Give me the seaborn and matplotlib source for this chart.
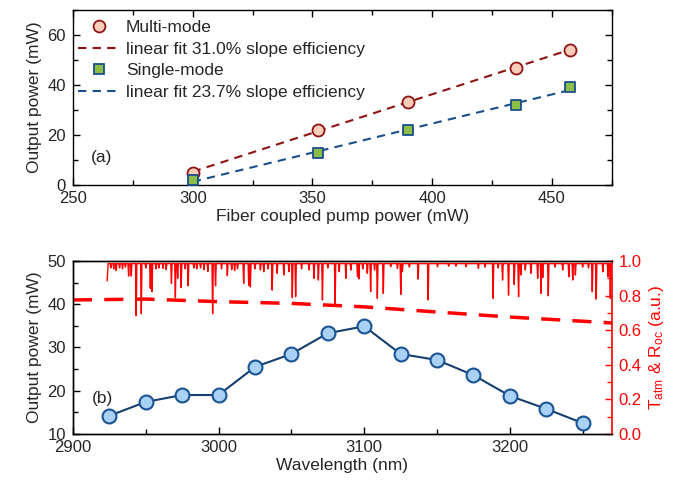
import numpy as np
import pandas as pd
import matplotlib
matplotlib.use("Agg")
import matplotlib.pyplot as plt
from matplotlib.ticker import MultipleLocator, FormatStrFormatter
from matplotlib.lines import Line2D
import seaborn as sns

# ---- panel (a): output power vs pump power ----
pump_multi = [300, 352.5, 390, 435, 457.5]
power_multi = [5.0, 22.2, 33.2, 47.0, 54.2]
pump_single = [300, 352.5, 390, 435, 457.5]
power_single = [2.0, 12.9, 22.0, 32.0, 39.1]
fit_labels = ["linear fit 31.0% slope efficiency", "linear fit 23.7% slope efficiency"]

# ---- panel (b): output power vs wavelength ----
wavelength = [2925, 2950, 2975, 3000, 3025, 3050, 3075, 3100,
              3125, 3150, 3175, 3200, 3225, 3250]
power_wl = [14.2, 17.4, 19.0, 19.0, 25.5, 28.5, 33.3, 34.9,
            28.5, 27.1, 23.6, 18.8, 15.8, 12.5]

# output coupler reflectivity (dashed red)
roc_wl = [2900, 2950, 3000, 3050, 3100, 3150, 3200, 3270]
roc_val = [0.775, 0.78, 0.765, 0.755, 0.735, 0.705, 0.676, 0.642]

# atmospheric transmission: start point, baseline level and absorption dips
tatm_start = (2923.5, 0.885)
tatm_base = 0.985
dip_wl = [2926, 2928, 2929.7, 2932, 2934, 2936, 2938.2, 2940, 2943.4, 2946.9,
          2950, 2953.1, 2954.3, 2957, 2959, 2961.8, 2964, 2967.6, 2970.3, 2971.9,
          2974.3, 2977, 2979.1, 2983, 2985, 2987.6, 2990, 2992.6, 2995.9, 2997.9,
          3002, 3006, 3009, 3011, 3013, 3017.2, 3020.7, 3021.8, 3025, 3028.7,
          3031, 3034, 3036.8, 3040.2, 3044.8, 3048.3, 3050.6, 3052.9, 3057, 3062.1,
          3065.5, 3068.5, 3071.3, 3075, 3080, 3082.8, 3087.4, 3090.8, 3095.4, 3096.3,
          3099, 3102.1, 3104.4, 3107.1, 3109, 3113.1, 3118.2, 3122.8, 3125.1, 3126.2,
          3131, 3137, 3143.9, 3150.3, 3158, 3163, 3169.9, 3178.4, 3183, 3188.5,
          3192, 3195, 3199.1, 3203, 3206, 3207.6, 3210.6, 3214.5, 3219.1, 3221.4,
          3222.6, 3226.4, 3231, 3236.3, 3240.5, 3243.2, 3245, 3250, 3254, 3256.6,
          3259.3, 3263.9, 3267.4, 3269]
dip_depth = [0.96, 0.955, 0.944, 0.96, 0.955, 0.965, 0.913, 0.913, 0.684, 0.695,
             0.96, 0.842, 0.823, 0.955, 0.96, 0.958, 0.95, 0.871, 0.788, 0.90,
             0.846, 0.955, 0.857, 0.96, 0.955, 0.96, 0.95, 0.94, 0.695, 0.857,
             0.955, 0.915, 0.95, 0.945, 0.955, 0.871, 0.86, 0.85, 0.955, 0.948,
             0.938, 0.955, 0.832, 0.929, 0.919, 0.938, 0.788, 0.794, 0.955, 0.948,
             0.90, 0.89, 0.775, 0.96, 0.746, 0.938, 0.90, 0.948, 0.909, 0.896,
             0.955, 0.929, 0.823, 0.948, 0.784, 0.813, 0.967, 0.958, 0.807, 0.938,
             0.965, 0.896, 0.775, 0.967, 0.97, 0.97, 0.967, 0.958, 0.965, 0.784,
             0.96, 0.89, 0.803, 0.865, 0.794, 0.919, 0.948, 0.929, 0.90, 0.813,
             0.904, 0.799, 0.965, 0.948, 0.909, 0.89, 0.919, 0.965, 0.96, 0.823,
             0.78, 0.938, 0.909, 0.784]

sns.set_theme(style="ticks")
plt.rcParams["font.family"] = ["Liberation Sans", "DejaVu Sans"]
plt.rcParams["mathtext.fontset"] = "custom"
plt.rcParams["mathtext.rm"] = "Liberation Sans"
plt.rcParams["mathtext.it"] = "Liberation Sans:italic"
plt.rcParams["xtick.direction"] = "in"
plt.rcParams["ytick.direction"] = "in"
plt.rcParams["axes.edgecolor"] = "black"
plt.rcParams["axes.linewidth"] = 1.0

FS = 12.5
TFS = 12

fig = plt.figure(figsize=(6.79, 4.87), dpi=100)
ax1 = fig.add_axes([0.1075, 0.620, 0.7935, 0.359])
ax2 = fig.add_axes([0.1075, 0.109, 0.7935, 0.355])

# ======================= panel (a) =======================
red_dark = "#8e1414"
blue_dark = "#1a4f8c"

df_m = pd.DataFrame({"pump": pump_multi, "power": power_multi})
df_s = pd.DataFrame({"pump": pump_single, "power": power_single})

for df, col in [(df_m, red_dark), (df_s, blue_dark)]:
    k, b = np.polyfit(df["pump"], df["power"], 1)
    xf = np.array([df["pump"].min(), df["pump"].max()])
    ax1.plot(xf, k * xf + b, ls=(0, (4, 3)), color=col, lw=1.5, zorder=2)

sns.scatterplot(data=df_m, x="pump", y="power", ax=ax1, marker="o", s=75,
                color="#fbcdb9", edgecolor=red_dark, linewidth=1.3, zorder=3)
sns.scatterplot(data=df_s, x="pump", y="power", ax=ax1, marker="s", s=60,
                color="#8cbd45", edgecolor=blue_dark, linewidth=1.3, zorder=3)

ax1.set_xlim(250, 475)
ax1.set_ylim(0, 70)
ax1.xaxis.set_major_locator(MultipleLocator(50))
ax1.xaxis.set_minor_locator(MultipleLocator(25))
ax1.yaxis.set_major_locator(MultipleLocator(20))
ax1.yaxis.set_minor_locator(MultipleLocator(10))
ax1.tick_params(which="both", top=True, right=True, labelsize=TFS, color="black")
ax1.tick_params(which="major", length=5, width=1)
ax1.tick_params(which="minor", length=3.5, width=1)
ax1.tick_params(axis="x", pad=4.5)
ax1.tick_params(axis="y", pad=5)
ax1.set_xlabel("Fiber coupled pump power (mW)", fontsize=FS, labelpad=2)
ax1.set_ylabel("Output power (mW)", fontsize=FS, labelpad=4)
ax1.text(262, 11, "(a)", fontsize=FS, ha="center", va="center")

handles = [
    Line2D([], [], ls="none", marker="o", ms=8.5, mfc="#fbcdb9", mec=red_dark, mew=1.3),
    Line2D([], [], ls=(0, (4, 3)), color=red_dark, lw=1.5),
    Line2D([], [], ls="none", marker="s", ms=7.5, mfc="#8cbd45", mec=blue_dark, mew=1.3),
    Line2D([], [], ls=(0, (4, 3)), color=blue_dark, lw=1.5),
]
labels = ["Multi-mode", fit_labels[0], "Single-mode", fit_labels[1]]
ax1.legend(handles, labels, loc="upper left", frameon=False, fontsize=FS,
           handlelength=2.45, handletextpad=0.3, labelspacing=0.38,
           borderaxespad=0.2, bbox_to_anchor=(-0.01, 1.005))

# ======================= panel (b) =======================
df_b = pd.DataFrame({"wavelength": wavelength, "power": power_wl})
sns.lineplot(data=df_b, x="wavelength", y="power", ax=ax2, color="#163e6e",
             lw=1.5, marker="o", markersize=10, markerfacecolor="#a9d0f5",
             markeredgecolor="#1a5494", markeredgewidth=1.5, zorder=3)

ax2.set_xlim(2900, 3270)
ax2.set_ylim(10, 50)
ax2.xaxis.set_major_locator(MultipleLocator(100))
ax2.xaxis.set_minor_locator(MultipleLocator(50))
ax2.yaxis.set_major_locator(MultipleLocator(10))
ax2.yaxis.set_minor_locator(MultipleLocator(5))
ax2.tick_params(which="both", labelsize=TFS, color="black")
ax2.tick_params(which="major", length=5, width=1)
ax2.tick_params(which="minor", length=3.5, width=1)
ax2.tick_params(axis="x", pad=4.5)
ax2.tick_params(axis="y", pad=5)
ax2.set_xlabel("Wavelength (nm)", fontsize=FS, labelpad=2)
ax2.set_ylabel("Output power (mW)", fontsize=FS, labelpad=4)
ax2.text(2920, 18.3, "(b)", fontsize=FS, ha="center", va="center")

ax3 = ax2.twinx()
# build transmission polyline from dip list
tw = [tatm_start[0], tatm_start[0] + 0.6]
tv = [tatm_start[1], tatm_base]
for w, d in sorted(zip(dip_wl, dip_depth)):
    tw += [w - 0.45, w, w + 0.45]
    tv += [tatm_base, d, tatm_base]
tw.append(3275)
tv.append(tatm_base)
df_t = pd.DataFrame({"wl": tw, "t": tv})
ax3.plot(df_t["wl"], df_t["t"], color="#ff0000", lw=1.0, zorder=2)
ax3.plot(roc_wl, roc_val, color="#ff0000", lw=2.5, ls=(0, (5.5, 3.5)), zorder=2)

ax3.set_ylim(0, 1.0)
ax3.set_xlim(2900, 3270)
ax3.yaxis.set_major_locator(MultipleLocator(0.2))
ax3.yaxis.set_minor_locator(MultipleLocator(0.1))
ax3.yaxis.set_major_formatter(FormatStrFormatter("%.1f"))
ax3.tick_params(which="both", labelsize=TFS, color="#ff0000", labelcolor="#ff0000")
ax3.tick_params(which="major", length=5, width=1)
ax3.tick_params(which="minor", length=3.5, width=1)
ax3.tick_params(axis="y", pad=5)
ax3.spines["right"].set_color("#ff0000")
ax3.spines["right"].set_linewidth(1.2)
ax3.set_ylabel(r"T$_{\mathrm{atm}}$ & R$_{\mathrm{oc}}$ (a.u.)", fontsize=FS,
               color="#ff0000", labelpad=4)
ax2.spines["right"].set_visible(False)

fig.savefig("out.png", dpi=100)
